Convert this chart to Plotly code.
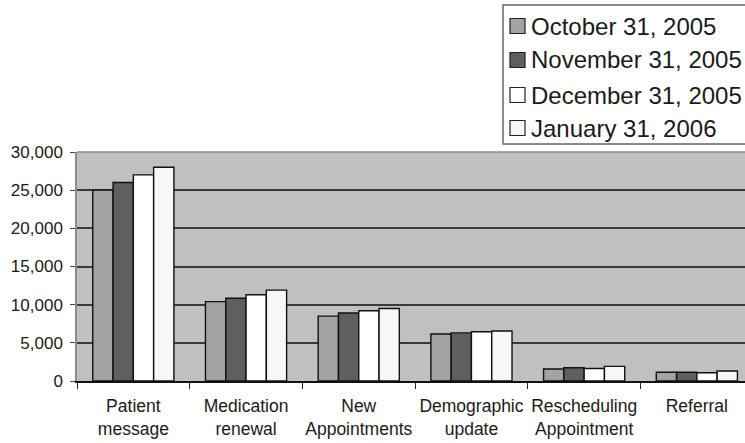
import plotly.graph_objects as go

# Message categories handled per month
categories = ["Patient<br>message", "Medication<br>renewal", "New<br>Appointments",
              "Demographic<br>update", "Rescheduling<br>Appointment", "Referral"]

series_names = ["October 31, 2005", "November 31, 2005",
                "December 31, 2005", "January 31, 2006"]

oct_2005 = [25000, 10400, 8500, 6150, 1570, 1140]
nov_2005 = [26000, 10850, 8900, 6300, 1740, 1140]
dec_2005 = [27000, 11300, 9200, 6450, 1640, 1090]
jan_2006 = [28000, 11900, 9500, 6550, 1920, 1310]

y_ticks = [0, 5000, 10000, 15000, 20000, 25000, 30000]
y_tick_text = ["0", "5,000", "10,000", "15,000", "20,000", "25,000", "30,000"]

series_values = [oct_2005, nov_2005, dec_2005, jan_2006]
series_colors = ["#a3a3a3", "#5f5f5f", "#ffffff", "#f7f7f7"]

W, H = 745, 443
M_L, M_R, M_T, M_B = 77, 0, 152, 62
plot_w = W - M_L - M_R
plot_h = H - M_T - M_B
cat_px = 112.7  # width of one category slot in pixels

FONT = "Liberation Sans, Arial, sans-serif"

fig = go.Figure()
for name, vals, col in zip(series_names, series_values, series_colors):
    fig.add_trace(go.Bar(
        x=categories, y=vals, name=name,
        marker=dict(color=col, line=dict(color="#111111", width=1.4)),
        showlegend=False,
    ))


def px_x(px):
    return (px - M_L) / plot_w


def px_y(py):
    return (H - M_B - py) / plot_h


shapes = []
annotations = []

# Light line along the top of the plotting area
shapes.append(dict(type="line", xref="paper", yref="paper", x0=0, x1=1, y0=1, y1=1,
                   line=dict(color="#8c8c8c", width=1.5), layer="above"))

# Legend box drawn at the upper right
leg_left, leg_top, leg_bottom = 503, 5, 144
shapes.append(dict(type="rect", xref="paper", yref="paper",
                   x0=px_x(leg_left), x1=px_x(W + 20), y0=px_y(leg_bottom), y1=px_y(leg_top),
                   line=dict(color="#666666", width=1.5), fillcolor="white", layer="above"))
row_centers = [26, 60, 95, 128]
for name, col, cy in zip(series_names, series_colors, row_centers):
    shapes.append(dict(type="rect", xref="paper", yref="paper",
                       x0=px_x(510), x1=px_x(525), y0=px_y(cy + 7.5), y1=px_y(cy - 7.5),
                       line=dict(color="#222222", width=1.2), fillcolor=col, layer="above"))
    annotations.append(dict(xref="paper", yref="paper", x=px_x(529), y=px_y(cy),
                            xanchor="left", yanchor="middle", showarrow=False,
                            text=name, font=dict(family=FONT, size=24, color="#1a1a1a")))

fig.update_layout(
    width=W, height=H,
    margin=dict(l=M_L, r=M_R, t=M_T, b=M_B, pad=0),
    paper_bgcolor="white",
    plot_bgcolor="#c0c0c0",
    barmode="group",
    bargap=0.28,
    bargroupgap=0,
    font=dict(family=FONT, color="#1a1a1a"),
    shapes=shapes,
    annotations=annotations,
    showlegend=False,
)

fig.update_xaxes(
    range=[-0.5, -0.5 + plot_w / cat_px],
    tickson="boundaries",
    ticks="outside", ticklen=6, tickwidth=1.2, tickcolor="#222222",
    showline=True, linecolor="#111111", linewidth=1.5,
    showgrid=False,
    tickangle=0,
    automargin=False,
    ticklabelstandoff=8,
    tickfont=dict(family=FONT, size=17.5, color="#1a1a1a"),
)

fig.update_yaxes(
    range=[0, 30000],
    tickvals=y_ticks, ticktext=y_tick_text,
    ticks="outside", ticklen=5, tickwidth=1.2, tickcolor="#444444",
    showline=True, linecolor="#8c8c8c", linewidth=1.5,
    showgrid=True, gridcolor="#3a3a3a", gridwidth=1.5,
    zeroline=False,
    automargin=False,
    ticklabelstandoff=4,
    tickfont=dict(family=FONT, size=17, color="#1a1a1a"),
)

fig.write_html("out.html")
